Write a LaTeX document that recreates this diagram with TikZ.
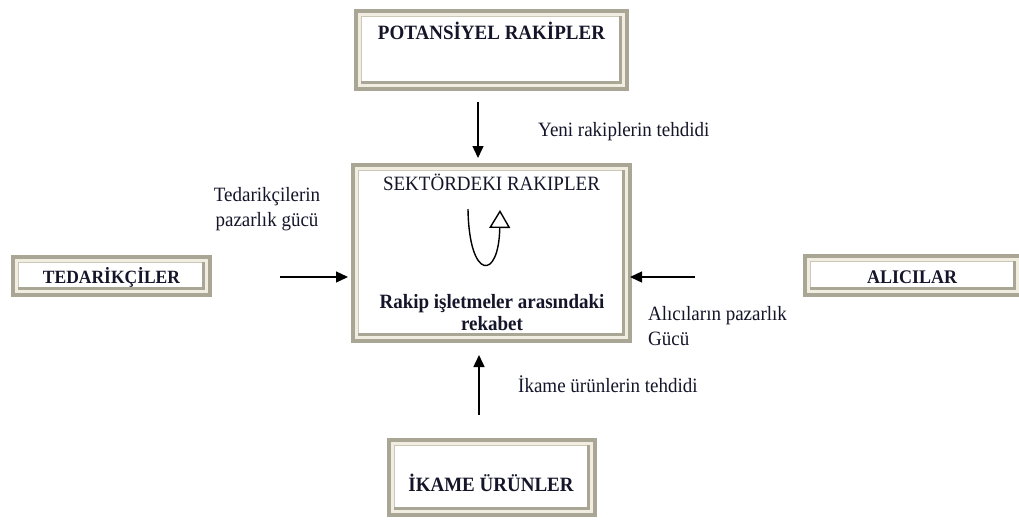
\documentclass[tikz,border=0pt]{standalone}
\usepackage{fontspec}
\setmainfont{Liberation Serif}
\usetikzlibrary{arrows.meta,calc}
\definecolor{fgray}{HTML}{A9A696}
\definecolor{cream}{HTML}{F1EDE1}
\definecolor{lgray}{HTML}{CCC8B8}
\definecolor{ink}{HTML}{15152A}
\begin{document}
\begin{tikzpicture}[x=1pt,y=-1pt,
  frame/.style={draw=fgray, line width=4pt, fill=cream, inner sep=0pt,
    path picture={
      \path (path picture bounding box.north west) ++(5pt,-5pt) coordinate (fa);
      \path (path picture bounding box.south east) ++(-5pt,5pt) coordinate (fb);
      \coordinate (fc) at (fa|-fb);
      \coordinate (fd) at (fb|-fa);
      \fill[white] (fa) rectangle (fb);
      \draw[lgray,line width=1.2pt] ($(fc)+(0.6pt,0pt)$) -- ($(fa)+(0.6pt,-0.6pt)$) -- ($(fd)+(0pt,-0.6pt)$);
      \draw[fgray,line width=3pt] ($(fd)+(-1.5pt,0pt)$) -- ($(fb)+(-1.5pt,1.5pt)$) -- ($(fc)+(0pt,1.5pt)$);
    }},
  boxtext/.style={text=ink, inner sep=0pt, font=\fontsize{19}{20}\selectfont\bfseries, align=center, yscale=1.07, transform shape},
  plain/.style={text=ink, inner sep=0pt, font=\fontsize{19}{23.5}\selectfont, yscale=1.07, transform shape},
  arr/.style={draw=black, line width=1.4pt, -{Triangle[length=12pt,width=11pt]}},
  loop/.style={draw=black, line width=1.4pt, -{Triangle[length=18pt,width=21pt,fill=white]}}]
\clip (0,0) rectangle (1019,520);
\fill[white] (0,0) rectangle (1019,520);

% boxes
\node[frame, minimum width=271pt, minimum height=78pt] (pot) at (491.5,50) {};
\node[boxtext] (potT) at (491.5,31) {POTANSİYEL RAKİPLER};

\node[frame, minimum width=277pt, minimum height=176pt] (sek) at (491.5,253) {};
\node[plain] (sekT) at (491.5,182) {SEKTÖRDEKI RAKIPLER};
\node[boxtext] (sekB) at (492,312.5) {Rakip işletmeler arasındaki\\rekabet};

\node[frame, minimum width=197pt, minimum height=38pt] (ted) at (111.5,276) {};
\node[boxtext, font=\fontsize{17.5}{21}\selectfont\bfseries] (tedT) at (111.5,277) {TEDARİKÇİLER};

\node[frame, minimum width=216pt, minimum height=39pt] (ali) at (913,275.5) {};
\node[boxtext, font=\fontsize{18}{21}\selectfont\bfseries] (aliT) at (912,277) {ALICILAR};

\node[frame, minimum width=206pt, minimum height=75pt] (ika) at (492,477.5) {};
\node[boxtext] (ikaT) at (491,483) {İKAME ÜRÜNLER};

% connectors
\draw[arr] ($(pot.south)+(-13.5pt,-11pt)$) -- ($(pot.south |- sek.north)+(-13.5pt,5pt)$);
\draw[arr] ($(ted.east)+(68pt,-1pt)$) -- ($(ted.east -| sek.west)+(-3pt,-1pt)$);
\draw[arr] ($(ali.west)+(-108pt,-1.5pt)$) -- ($(ali.west -| sek.east)+(-2pt,-1.5pt)$);
\draw[arr] ($(ika.north)+(-13pt,23pt)$) -- ($(ika.north |- sek.south)+(-13pt,-12pt)$);

% rivalry loop
\coordinate (u1) at (468,209);
\coordinate (u2) at (500,210);
\draw[loop] (u1) .. controls (469,281) and (499,281) .. (u2);

% labels
\node[plain, anchor=west] (lYeni) at (538,132) {Yeni rakiplerin tehdidi};
\node[plain, align=center] (lTed) at (267,209.5) {Tedarikçilerin\\pazarlık gücü};
\node[plain, align=left, anchor=west] (lAli) at (648,326) {Alıcıların pazarlık\\Gücü};
\node[plain, anchor=west] (lIka) at (518,384) {İkame ürünlerin tehdidi};
\end{tikzpicture}
\end{document}
